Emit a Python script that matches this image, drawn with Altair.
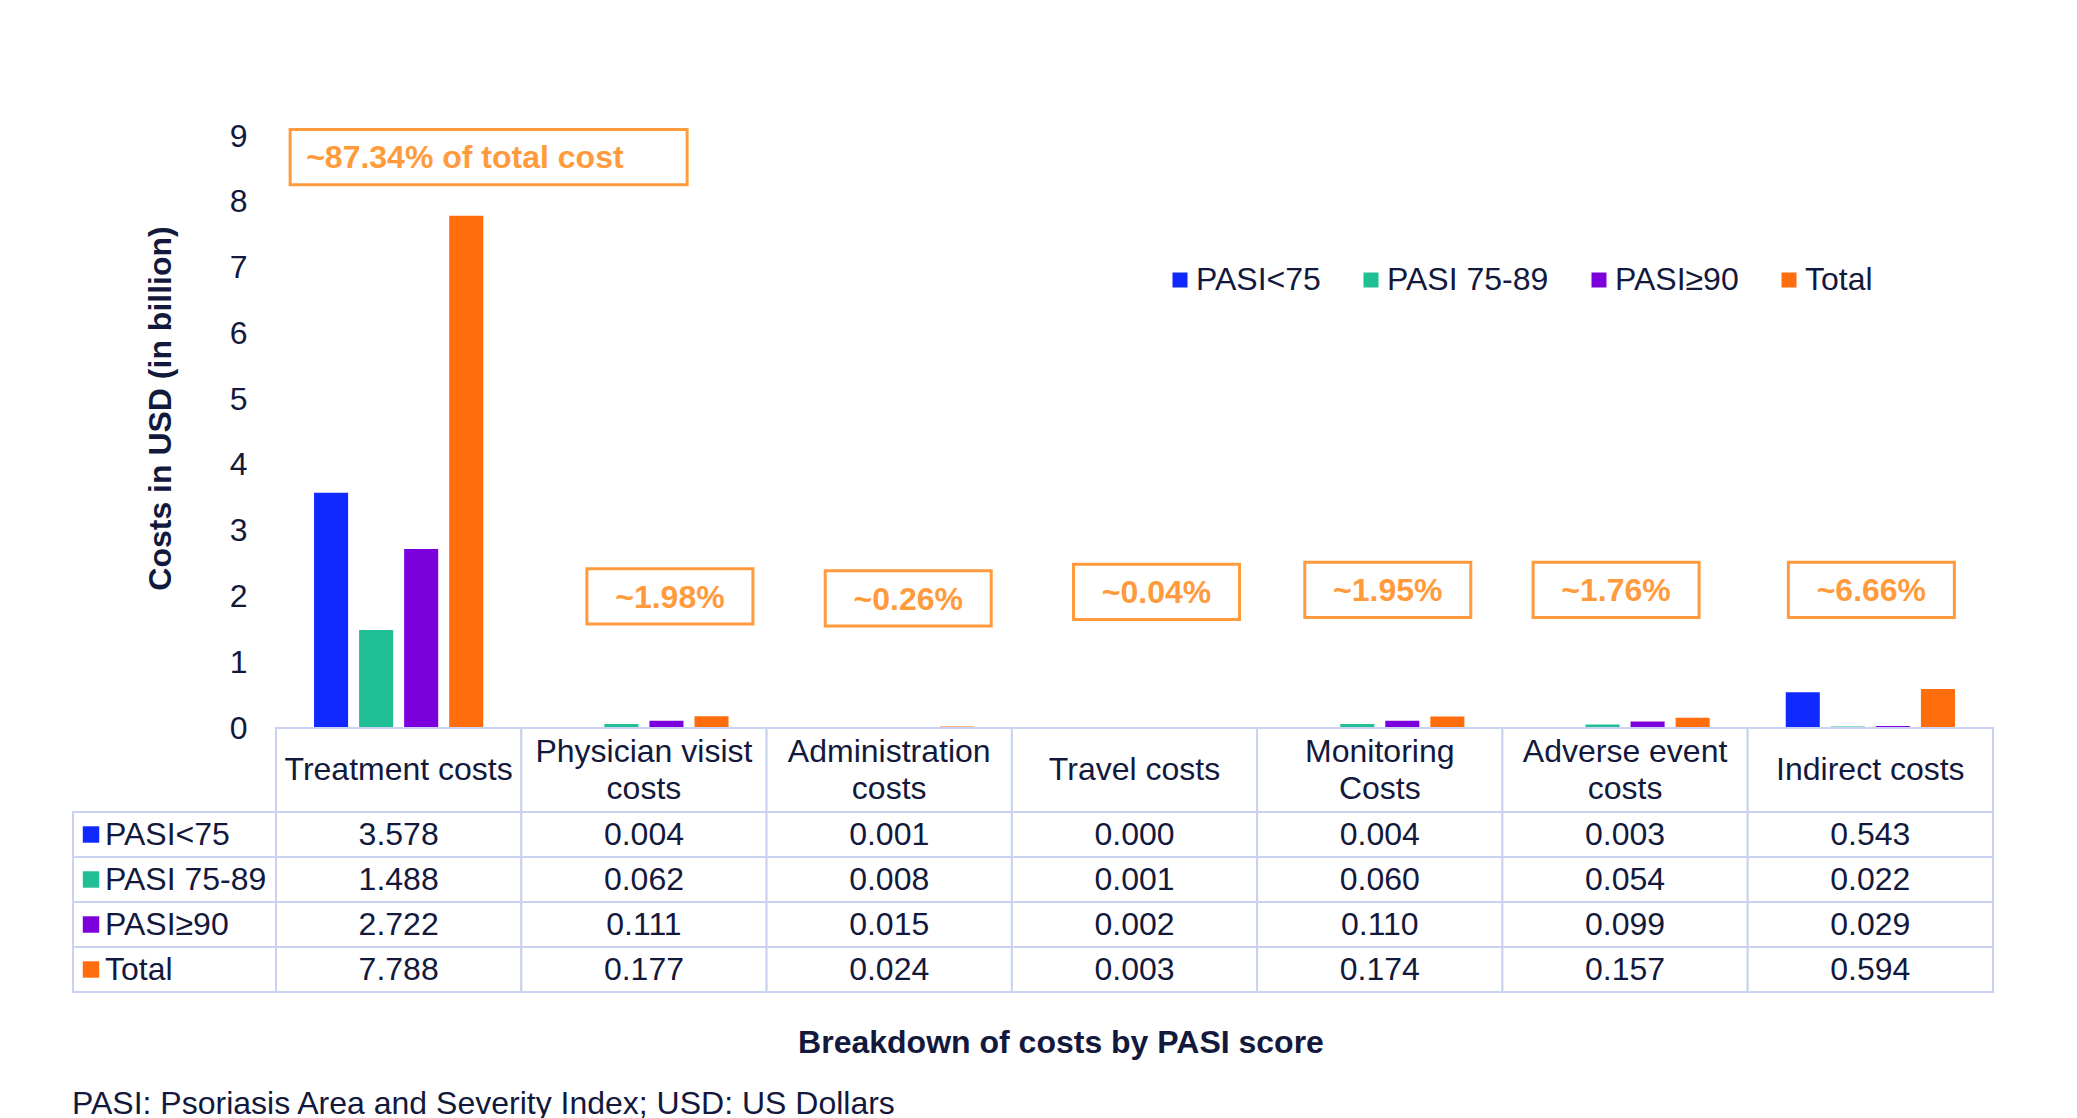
import altair as alt
import pandas as pd

# ---------------- data ----------------
categories = ["Treatment costs", "Physician visist costs", "Administration costs",
              "Travel costs", "Monitoring Costs", "Adverse event costs", "Indirect costs"]
header_labels = ["Treatment costs", "Physician visist\ncosts", "Administration\ncosts",
                 "Travel costs", "Monitoring\nCosts", "Adverse event\ncosts", "Indirect costs"]
series = ["PASI<75", "PASI 75-89", "PASI≥90", "Total"]
pasi_lt75 = [3.578, 0.004, 0.001, 0.000, 0.004, 0.003, 0.543]
pasi_75_89 = [1.488, 0.062, 0.008, 0.001, 0.060, 0.054, 0.022]
pasi_ge90 = [2.722, 0.111, 0.015, 0.002, 0.110, 0.099, 0.029]
total = [7.788, 0.177, 0.024, 0.003, 0.174, 0.157, 0.594]
share_labels = ["~87.34% of total cost", "~1.98%", "~0.26%", "~0.04%",
                "~1.95%", "~1.76%", "~6.66%"]
y_ticks = [0, 1, 2, 3, 4, 5, 6, 7, 8, 9]
y_title = "Costs in USD (in billion)"
x_title = "Breakdown of costs by PASI score"
footnote = "PASI: Psoriasis Area and Severity Index; USD: US Dollars"

# ---------------- layout / styles ----------------
# annotation box placement (layout only): vertical centre in axis units, horizontal shift in px
box_center = [8.68, 2.00, 1.97, 2.07, 2.10, 2.10, 2.10]
box_shift = [90, 26, 19, 22, 8, -9, 1]
BOX_HALF = 0.42
colors = ["#1029ff", "#21bf95", "#7b00db", "#ff6d0c"]
NAVY = "#13193d"
ORANGE = "#ff9b3d"
GRID = "#c9d2f2"
FONT = "Liberation Sans"
FS = 32
W = 1717
H = 592
HDR_H = 84
ROWS_H = 180

rows = []
for s, vals in zip(series, [pasi_lt75, pasi_75_89, pasi_ge90, total]):
    for c, v in zip(categories, vals):
        rows.append({"cat": c, "series": s, "value": v, "txt": f"{v:.3f}"})
df = pd.DataFrame(rows)

ann = pd.DataFrame({"cat": categories, "label": share_labels})

x_scale = alt.Scale(domain=categories, paddingInner=0, paddingOuter=0)
color_scale = alt.Scale(domain=series, range=colors)
y_scale = alt.Scale(domain=[0, 9], nice=False, zero=True)


def xcat():
    return alt.X("cat:N", scale=x_scale, sort=categories, axis=None)


# ---------------- bar chart ----------------
bars = alt.Chart(df).mark_bar().encode(
    x=xcat(),
    xOffset=alt.XOffset("series:N", sort=series,
                        scale=alt.Scale(domain=series, paddingInner=0.244, paddingOuter=0.844)),
    y=alt.Y("value:Q", scale=y_scale,
            axis=alt.Axis(values=y_ticks, format="d", title=y_title, grid=False, ticks=False,
                          domain=False, labelFontSize=FS, labelColor=NAVY, labelPadding=29,
                          labelFont=FONT, titleFontSize=32, titleFontWeight="bold",
                          titleColor=NAVY, titleFont=FONT, titleX=-116, titleY=272,
                          titleBaseline="middle")),
    color=alt.Color("series:N", scale=color_scale, sort=series,
                    legend=alt.Legend(title=None, orient="none", direction="horizontal", columns=4,
                                      legendX=888, legendY=128, symbolType="square", symbolSize=225,
                                      symbolStrokeWidth=0, labelFontSize=FS, labelColor=NAVY,
                                      labelFont=FONT, labelOffset=0, labelLimit=0,
                                      columnPadding=34, padding=0)),
)

layers = [bars]
for i in range(len(categories)):
    one = ann.iloc[[i]]
    wide = 397 if i == 0 else 166
    layers.append(
        alt.Chart(one).mark_bar(width=wide, xOffset=box_shift[i], fillOpacity=0, stroke=ORANGE,
                                strokeWidth=3).encode(
            x=xcat(), y=alt.datum(box_center[i] + BOX_HALF), y2=alt.datum(box_center[i] - BOX_HALF)))
    if i == 0:
        txt = alt.Chart(one).mark_text(align="left", dx=box_shift[i] - wide / 2 + 16, fontSize=FS,
                                       fontWeight="bold", color=ORANGE, font=FONT)
    else:
        txt = alt.Chart(one).mark_text(dx=box_shift[i], fontSize=FS, fontWeight="bold",
                                       color=ORANGE, font=FONT)
    layers.append(txt.encode(x=xcat(), y=alt.datum(box_center[i] - 0.02), text="label:N"))

top = alt.layer(*layers).properties(width=W, height=H)

# ---------------- table header ----------------
hdr = pd.DataFrame({"cat": categories, "label": header_labels})
hdr["lines"] = hdr["label"].str.count("\n") + 1
hdr_cells = alt.Chart(hdr).mark_rect(fill="white", stroke=GRID, strokeWidth=2).encode(
    x=xcat(), y=alt.value(0), y2=alt.value(HDR_H))
hdr_one = alt.Chart(hdr).transform_filter("datum.lines == 1").mark_text(
    fontSize=FS, color=NAVY, font=FONT, baseline="middle").encode(
    x=xcat(), y=alt.value(HDR_H / 2), text="label:N")
hdr_two = alt.Chart(hdr).transform_filter("datum.lines == 2").mark_text(
    lineBreak="\n", fontSize=FS, lineHeight=37, color=NAVY, font=FONT, baseline="middle").encode(
    x=xcat(), y=alt.value(HDR_H / 2 - 18.5), text="label:N")
header = alt.layer(hdr_cells, hdr_one, hdr_two).properties(width=W, height=HDR_H)

# ---------------- table rows ----------------
y_rows = alt.Y("series:N", sort=series, scale=alt.Scale(domain=series, paddingInner=0, paddingOuter=0),
               axis=None)
cells = alt.Chart(df).mark_rect(fill="white", stroke=GRID, strokeWidth=2).encode(x=xcat(), y=y_rows)
cell_txt = alt.Chart(df).mark_text(fontSize=FS, color=NAVY, font=FONT).encode(
    x=xcat(), y=y_rows, text="txt:N")

sdf = pd.DataFrame({"series": series})
lab_cells = alt.Chart(sdf).mark_rect(fill="white", stroke=GRID, strokeWidth=2).encode(
    x=alt.value(-203), x2=alt.value(0), y=y_rows)
lab_sq = alt.Chart(sdf).mark_point(shape="square", filled=True, size=270, opacity=1).encode(
    x=alt.value(-185), y=y_rows,
    color=alt.Color("series:N", scale=color_scale, sort=series, legend=None))
lab_txt = alt.Chart(sdf).mark_text(align="left", fontSize=FS, color=NAVY, font=FONT).encode(
    x=alt.value(-171), y=y_rows, text="series:N")

xt = alt.Chart(pd.DataFrame({"t": [x_title]})).mark_text(
    fontSize=FS, fontWeight="bold", color=NAVY, font=FONT).encode(
    x=alt.value(785), y=alt.value(ROWS_H + 51), text="t:N")
fn = alt.Chart(pd.DataFrame({"t": [footnote]})).mark_text(
    align="left", fontSize=FS, color=NAVY, font=FONT).encode(
    x=alt.value(-204), y=alt.value(ROWS_H + 112), text="t:N")

table = alt.layer(cells, cell_txt, lab_cells, lab_sq, lab_txt, xt, fn).properties(
    width=W, height=ROWS_H)

chart = alt.vconcat(top, header, table, spacing=0, bounds="flush").properties(
    padding={"left": 64, "top": 112, "right": 10, "bottom": 10}
).configure(font=FONT).configure_view(stroke=None).resolve_scale(color="shared")

chart.save("out.html", embed_options={"renderer": "svg", "actions": False})
